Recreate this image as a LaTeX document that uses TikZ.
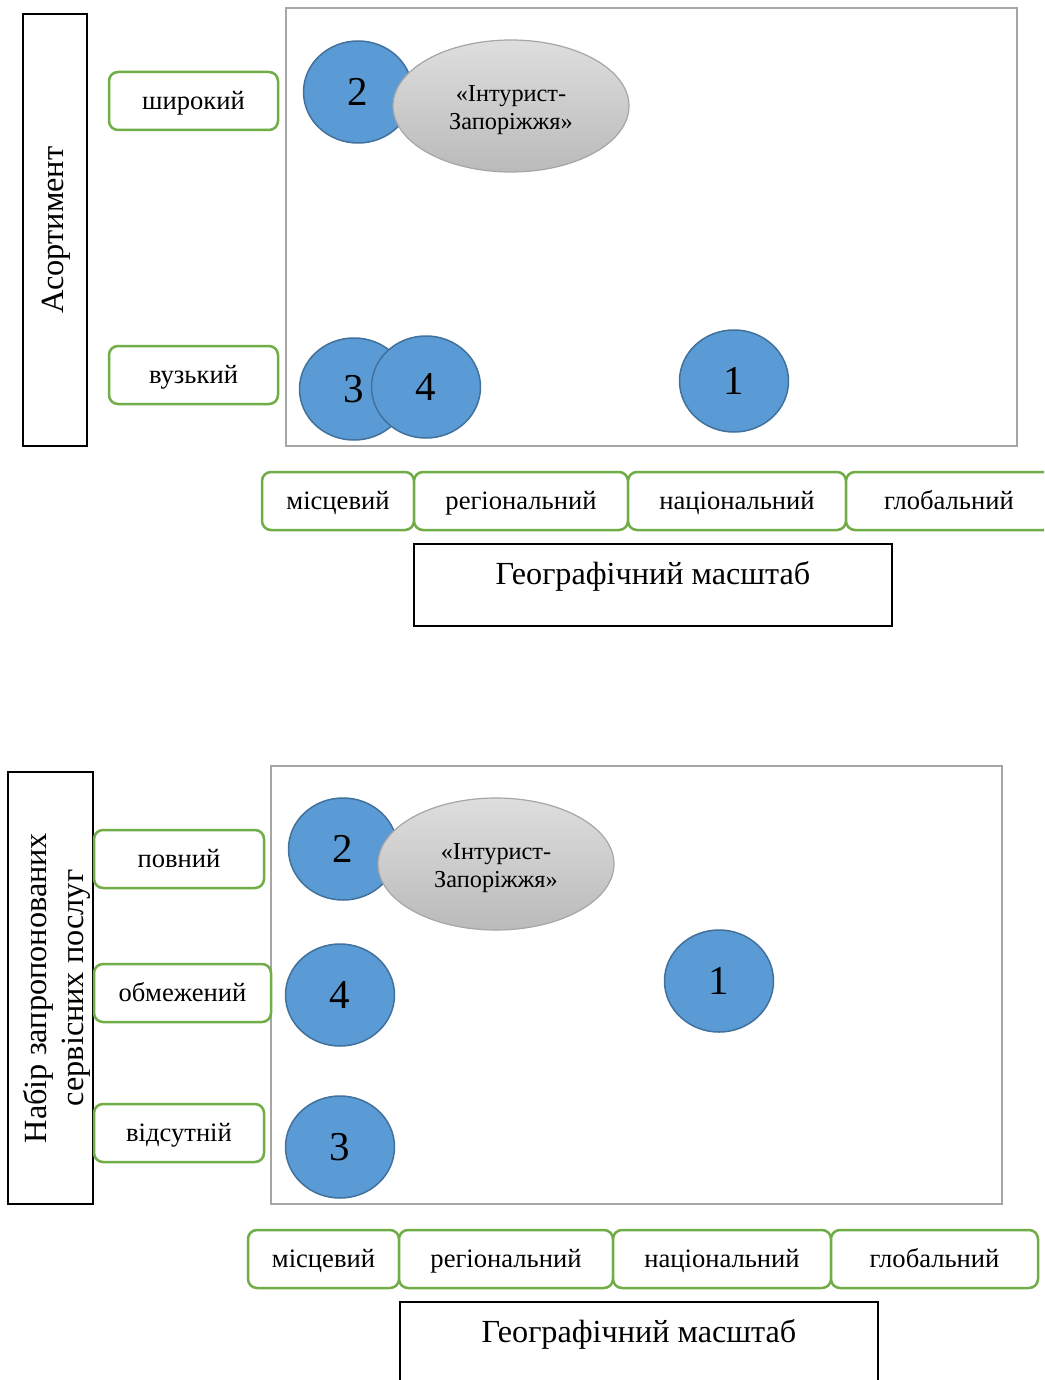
\documentclass[tikz,border=0pt]{standalone}
\usepackage{fontspec}
\setmainfont{Liberation Serif}
\usetikzlibrary{shapes.geometric,calc}
\definecolor{lgreen}{HTML}{70AD47}
\definecolor{cblue}{HTML}{5B9BD5}
\definecolor{cbluedark}{HTML}{41719C}
\definecolor{framegray}{HTML}{A6A6A6}
\tikzset{
  lab/.style={draw=lgreen, line width=2.5pt, rounded corners=9pt, fill=white,
    minimum height=58pt, inner sep=0pt, text height=20pt, text depth=2.8pt,
    font=\fontsize{26.6}{30}\selectfont},
  axisbox/.style={draw=black, line width=1.2pt, inner sep=0pt},
  frame/.style={draw=framegray, line width=2pt},
  dot/.style={ellipse, draw=cbluedark, line width=1.5pt, fill=cblue, inner sep=0pt,
    minimum width=109pt, minimum height=102pt, font=\fontsize{41}{44}\selectfont},
  firm/.style={ellipse, draw=framegray, line width=1.2pt, top color=black!13, bottom color=black!27,
    inner sep=0pt, minimum width=236pt, minimum height=132pt},
  firmtext/.style={align=center, yshift=-4pt, font=\fontsize{24.3}{28}\selectfont},
  geo/.style={draw=black, line width=1.2pt, inner sep=0pt, minimum width=478pt, minimum height=82pt},
  geotext/.style={anchor=north, yshift=-15pt, font=\fontsize{32.2}{35}\selectfont}
}
\begin{document}
\begin{tikzpicture}[x=1pt,y=-1pt]
\clip (0,0) rectangle (1044,1380);
\fill[white] (0,0) rectangle (1044,1380);

% ---------- upper diagram ----------
\node[axisbox, minimum width=64pt, minimum height=432pt] (ax1) at (55,230) {};
\node[rotate=90, font=\fontsize{32.4}{35}\selectfont] (ax1t) at (56,230) {Асортимент};
\node[frame, minimum width=731pt, minimum height=438pt, inner sep=0pt] (fr1) at (651.5,227) {};
\node[lab, minimum width=169pt] (w1) at (193.5,101) {широкий};
\node[lab, minimum width=169pt] (n1) at (193.5,375) {вузький};

\node[dot] (c2a) at (358,92) {2};
\node[firm, label={[firmtext]center:«Інтурист-\\Запоріжжя»}] (fa) at (511,106) {};
\node[dot] (c3a) at (354,389) {3};
\node[dot] (c4a) at (426,387) {4};
\node[dot] (c1a) at (734,381) {1};

\node[lab, minimum width=152pt] (m1) at (338,501) {місцевий};
\node[lab, minimum width=214pt] (r1) at (521,501) {регіональний};
\node[lab, minimum width=218pt] (k1) at (737,501) {національний};
\node[lab, minimum width=218pt, text width=198pt, align=left] (g1) at (955,501) {\hspace*{28pt}глобальний};
\node[geo, label={[geotext]north:Географічний масштаб}] (geo1) at (653,585) {};

% ---------- lower diagram ----------
\node[axisbox, minimum width=85pt, minimum height=432pt] (ax2) at (50.5,988) {};
\node[rotate=90, align=center, font=\fontsize{32.3}{37}\selectfont] (ax2t) at (57,988) {Набір запропонованих\\сервісних послуг};
\node[frame, minimum width=731pt, minimum height=438pt, inner sep=0pt] (fr2) at (636.5,985) {};
\node[lab, minimum width=170pt] (p2) at (179,859) {повний};
\node[lab, minimum width=177pt] (o2) at (182.5,993) {обмежений};
\node[lab, minimum width=170pt] (v2) at (179,1133) {відсутній};

\node[dot] (c2b) at (343,849) {2};
\node[firm, label={[firmtext]center:«Інтурист-\\Запоріжжя»}] (fb) at (496,864) {};
\node[dot] (c4b) at (340,995) {4};
\node[dot] (c3b) at (340,1147) {3};
\node[dot] (c1b) at (719,981) {1};

\node[lab, minimum width=151pt] (m2) at (323.5,1259) {місцевий};
\node[lab, minimum width=214pt] (r2) at (506,1259) {регіональний};
\node[lab, minimum width=218pt] (k2) at (722,1259) {національний};
\node[lab, minimum width=207pt] (g2) at (934.5,1259) {глобальний};
\node[geo, minimum height=100pt, label={[geotext]north:Географічний масштаб}] (geo2) at (639,1352) {};
\end{tikzpicture}
\end{document}
